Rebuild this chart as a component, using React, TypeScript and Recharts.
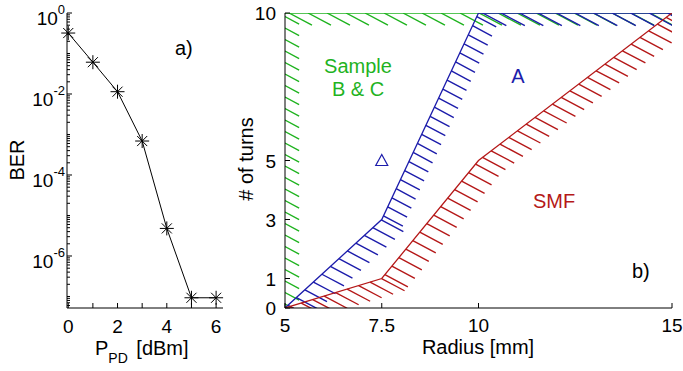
import React from 'react';
import { LineChart, ComposedChart, Line, Scatter, XAxis, YAxis } from 'recharts';

const FONT = '"Liberation Sans", Arial, Helvetica, sans-serif';

// ---------- Panel a) BER vs received power ----------
const powerDbm = [0, 1, 2, 3, 4, 5, 6];
const berValues = [0.32, 0.061, 0.0114, 6.9e-4, 4.8e-6, 9.3e-8, 9.3e-8];
const powerTicks = [0, 1, 2, 3, 4, 5, 6];
const powerTickLabels = ['0', '', '2', '', '4', '', '6'];
const berMajorTicks = [1, 1e-2, 1e-4, 1e-6];
const berMajorExponents = ['0', '-2', '-4', '-6'];
const berDomain = [5.2e-8, 1];

// ---------- Panel b) turns vs radius ----------
const radiusTicks = [5, 7.5, 10, 15];
const radiusTickLabels = ['5', '7.5', '10', '15'];
const turnsTicks = [0, 1, 3, 5, 10];
const turnsTickLabels = ['0', '1', '3', '5', '10'];
const radiusDomain = [5, 15];
const turnsDomain = [0, 10];

const greenRadius = [5, 5, 15];
const greenTurns = [0, 10, 10];
const blueRadius = [5, 7.5, 10, 15];
const blueTurns = [0, 3, 10, 10];
const redRadius = [5, 7.5, 10, 15];
const redTurns = [0, 1, 5, 10];
const markerRadius = [7.5];
const markerTurns = [5];

// ---------- styles ----------
const GREEN = '#1fb31f';
const BLUE = '#1c1cab';
const RED = '#b51818';

// hatch styling (pixels): spacing along each boundary segment, stroke length
const greenHatchSpacing = [11.5, 19];
const greenHatchLength = [16, 26];
const blueHatchSpacing = [11.5, 10, 18.5];
const blueHatchLength = [25, 22, 27];
const redHatchSpacing = [12, 11, 11];
const redHatchLength = [26, 26, 26];
const HATCH_ANGLE = (28 * Math.PI) / 180;

// right plot size in pixels (used to keep hatch angle in screen space)
const R_PLOT_W = 387;
const R_PLOT_H = 295;
const PX_PER_X = R_PLOT_W / (radiusDomain[1] - radiusDomain[0]);
const PX_PER_Y = R_PLOT_H / (turnsDomain[1] - turnsDomain[0]);

type Pt = { x: number; y: number | null };

function buildHatch(xs: number[], ys: number[], spacing: number[], length: number[], phase: number): Pt[] {
  const out: Pt[] = [];
  for (let i = 0; i < xs.length - 1; i++) {
    const ax = xs[i] * PX_PER_X;
    const ay = ys[i] * PX_PER_Y;
    const bx = xs[i + 1] * PX_PER_X;
    const by = ys[i + 1] * PX_PER_Y;
    const segLen = Math.hypot(bx - ax, by - ay);
    for (let d = phase; d <= segLen + 0.01; d += spacing[i]) {
      const t = d / segLen;
      const px = ax + t * (bx - ax);
      const py = ay + t * (by - ay);
      const ex = px + length[i] * Math.cos(HATCH_ANGLE);
      const ey = py - length[i] * Math.sin(HATCH_ANGLE);
      out.push({ x: px / PX_PER_X, y: py / PX_PER_Y });
      out.push({ x: ex / PX_PER_X, y: ey / PX_PER_Y });
      out.push({ x: ex / PX_PER_X, y: null });
    }
  }
  return out;
}

const toPts = (xs: number[], ys: number[]) => xs.map((x, i) => ({ x, y: ys[i] }));

const berData = powerDbm.map((p, i) => ({ p, ber: berValues[i] }));
const greenEdge = toPts(greenRadius.slice(1), greenTurns.slice(1));
const blueEdge = toPts(blueRadius, blueTurns);
const redEdge = toPts(redRadius, redTurns);
const greenHatch = buildHatch(greenRadius, greenTurns, greenHatchSpacing, greenHatchLength, 4);
const blueHatch = buildHatch(blueRadius, blueTurns, blueHatchSpacing, blueHatchLength, 4);
const redHatch = buildHatch(redRadius, redTurns, redHatchSpacing, redHatchLength, 5);
const markerData = toPts(markerRadius, markerTurns);

// minor ticks for the log axis
const berTicks: number[] = [];
for (let e = -8; e <= 0; e++) {
  for (let m = 1; m <= 9; m++) {
    const v = m * Math.pow(10, e);
    if (v >= berDomain[0] && v <= berDomain[1] * 1.0000001) berTicks.push(v);
  }
}

const TICK_FS = 19;
const LABEL_FS = 20;

const BerTick = (props: any) => {
  const { x, y, payload } = props;
  const v = payload.value;
  const idx = berMajorTicks.findIndex((t) => Math.abs(Math.log10(t) - Math.log10(v)) < 1e-6);
  if (idx < 0) {
    return <line x1={x} x2={x + 3} y1={y} y2={y} stroke="#000" strokeWidth={1} />;
  }
  return (
    <g>
      <line x1={x} x2={x + 5} y1={y} y2={y} stroke="#000" strokeWidth={1} />
      <text x={x - 2} y={y + 12} textAnchor="end" fontFamily={FONT} fontSize={TICK_FS} fill="#000">
        10
        <tspan dy={-11} fontSize={13}>
          {berMajorExponents[idx]}
        </tspan>
      </text>
    </g>
  );
};

const PowerTick = (props: any) => {
  const { x, y, payload } = props;
  const idx = powerTicks.indexOf(payload.value);
  return (
    <g>
      <line x1={x} x2={x} y1={y} y2={y - 5} stroke="#000" strokeWidth={1} />
      <text x={x} y={y + 25} textAnchor="middle" fontFamily={FONT} fontSize={TICK_FS} fill="#000">
        {powerTickLabels[idx]}
      </text>
    </g>
  );
};

const RadiusTick = (props: any) => {
  const { x, y, payload } = props;
  const idx = radiusTicks.indexOf(payload.value);
  return (
    <g>
      <line x1={x} x2={x} y1={y} y2={y - 5} stroke="#000" strokeWidth={1} />
      <text x={x} y={y + 24} textAnchor="middle" fontFamily={FONT} fontSize={TICK_FS} fill="#000">
        {radiusTickLabels[idx]}
      </text>
    </g>
  );
};

const TurnsTick = (props: any) => {
  const { x, y, payload } = props;
  const idx = turnsTicks.indexOf(payload.value);
  return (
    <g>
      <line x1={x} x2={x + 5} y1={y} y2={y} stroke="#000" strokeWidth={1} />
      <text x={x - 9} y={y + 7} textAnchor="end" fontFamily={FONT} fontSize={TICK_FS} fill="#000">
        {turnsTickLabels[idx]}
      </text>
    </g>
  );
};

const renderStar = (props: any) => {
  const { cx, cy, index } = props;
  const r = 7;
  const d = r * 0.72;
  return (
    <g key={`star-${index}`} stroke="#000" strokeWidth={1}>
      <line x1={cx - r} y1={cy} x2={cx + r} y2={cy} />
      <line x1={cx} y1={cy - r} x2={cx} y2={cy + r} />
      <line x1={cx - d} y1={cy - d} x2={cx + d} y2={cy + d} />
      <line x1={cx - d} y1={cy + d} x2={cx + d} y2={cy - d} />
    </g>
  );
};

const Triangle = (props: any) => {
  const { cx, cy } = props;
  return (
    <path
      d={`M${cx},${cy - 6} L${cx - 6},${cy + 5} L${cx + 6},${cy + 5} Z`}
      fill="none"
      stroke={BLUE}
      strokeWidth={1.2}
    />
  );
};

const hatchProps = {
  dataKey: 'y',
  dot: false,
  activeDot: false,
  isAnimationActive: false,
  strokeWidth: 1.4,
  connectNulls: false,
  type: 'linear' as const,
};

export default function App() {
  return (
    <div style={{ position: 'absolute', left: 0, top: 0, width: 683, height: 371, background: '#fff' }}>
      <div style={{ position: 'absolute', left: 0, top: 0 }}>
        <LineChart width={240} height={371} data={berData} margin={{ top: 13, right: 17, bottom: 33, left: 0 }}>
          <XAxis
            type="number"
            dataKey="p"
            domain={[-0.05, 6.28]}
            ticks={powerTicks}
            interval={0}
            tick={<PowerTick />}
            tickLine={false}
            tickSize={0}
            tickMargin={0}
            height={30}
            axisLine={{ stroke: '#000' }}
          />
          <YAxis
            type="number"
            scale="log"
            domain={berDomain}
            ticks={berTicks}
            interval={0}
            tick={<BerTick />}
            tickLine={false}
            tickSize={0}
            tickMargin={0}
            width={67}
            axisLine={{ stroke: '#000' }}
          />
          <Line dataKey="ber" type="linear" stroke="#000" strokeWidth={1} dot={renderStar} activeDot={false} isAnimationActive={false} />
        </LineChart>
      </div>
      <div style={{ position: 'absolute', left: 240, top: 0 }}>
        <ComposedChart width={443} height={371} margin={{ top: 13, right: 11, bottom: 33, left: 0 }}>
          <XAxis
            type="number"
            dataKey="x"
            domain={radiusDomain}
            ticks={radiusTicks}
            interval={0}
            tick={<RadiusTick />}
            tickLine={false}
            tickSize={0}
            tickMargin={0}
            height={30}
            axisLine={{ stroke: '#000' }}
            allowDataOverflow
          />
          <YAxis
            type="number"
            domain={turnsDomain}
            ticks={turnsTicks}
            interval={0}
            tick={<TurnsTick />}
            tickLine={false}
            tickSize={0}
            tickMargin={0}
            width={45}
            axisLine={{ stroke: '#000' }}
            allowDataOverflow
          />
          <Line data={greenHatch} stroke={GREEN} {...hatchProps} />
          <Line data={greenEdge} dataKey="y" stroke={GREEN} strokeWidth={1.3} dot={false} activeDot={false} isAnimationActive={false} />
          <Line data={blueHatch} stroke={BLUE} {...hatchProps} />
          <Line data={blueEdge} dataKey="y" stroke={BLUE} strokeWidth={1.3} dot={false} activeDot={false} isAnimationActive={false} />
          <Line data={redHatch} stroke={RED} {...hatchProps} />
          <Line data={redEdge} dataKey="y" stroke={RED} strokeWidth={1.3} dot={false} activeDot={false} isAnimationActive={false} />
          <Scatter data={markerData} dataKey="y" shape={<Triangle />} isAnimationActive={false} />
        </ComposedChart>
      </div>
      <svg
        width={683}
        height={371}
        style={{ position: 'absolute', left: 0, top: 0, pointerEvents: 'none' }}
        fontFamily={FONT}
      >
        <text x={24} y={160} transform="rotate(-90 24 160)" textAnchor="middle" fontSize={LABEL_FS} fill="#000">
          BER
        </text>
        <text x={95} y={355} fontSize={LABEL_FS} fill="#000">
          P
          <tspan dy={8} fontSize={14}>
            PD
          </tspan>
          <tspan dy={-8} dx={3}> [dBm]</tspan>
        </text>
        <text x={175} y={55} fontSize={LABEL_FS} fill="#000">
          a)
        </text>
        <text x={253} y={159} transform="rotate(-90 253 159)" textAnchor="middle" fontSize={LABEL_FS} fill="#000">
          # of turns
        </text>
        <text x={478} y={354} textAnchor="middle" fontSize={LABEL_FS} fill="#000">
          Radius [mm]
        </text>
        <text x={358} y={73} textAnchor="middle" fontSize={LABEL_FS} fill={GREEN}>
          Sample
        </text>
        <text x={358} y={96} textAnchor="middle" fontSize={LABEL_FS} fill={GREEN}>
          B &amp; C
        </text>
        <text x={518} y={83} textAnchor="middle" fontSize={LABEL_FS} fill={BLUE}>
          A
        </text>
        <text x={554} y={208} textAnchor="middle" fontSize={LABEL_FS} fill={RED}>
          SMF
        </text>
        <text x={632} y={278} fontSize={LABEL_FS} fill="#000">
          b)
        </text>
      </svg>
    </div>
  );
}
